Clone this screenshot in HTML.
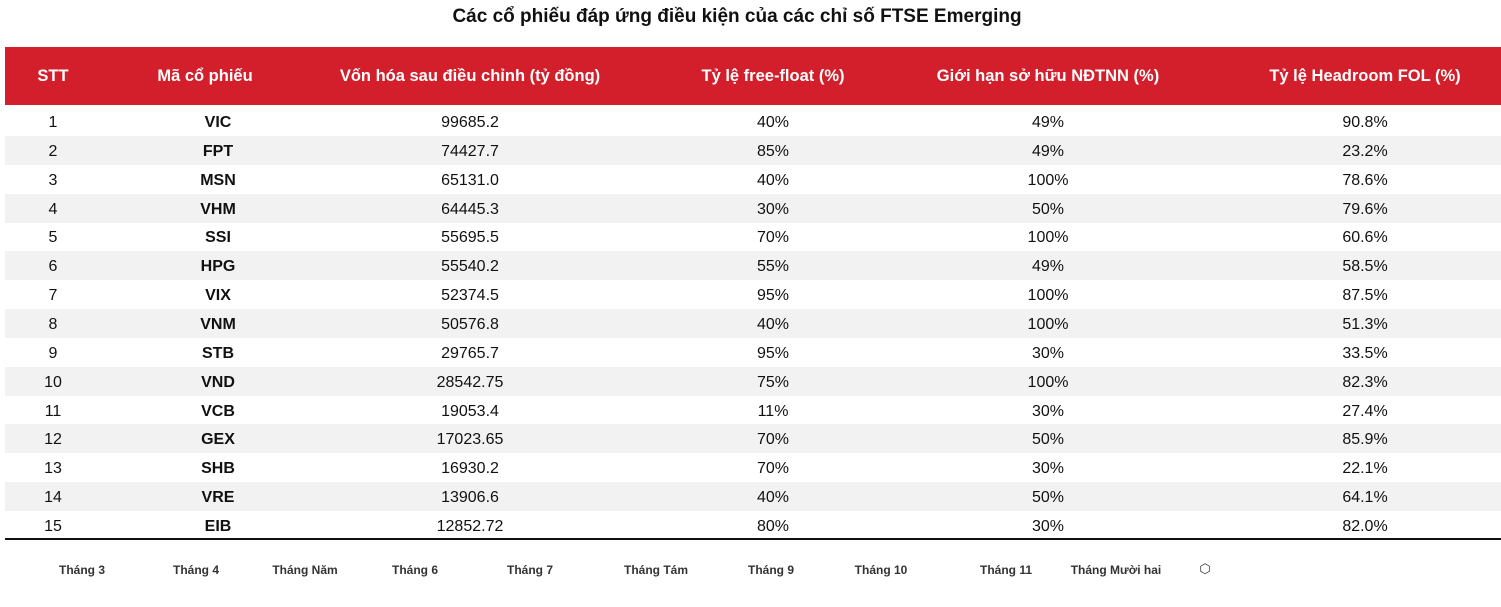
<!DOCTYPE html>
<html><head><meta charset="utf-8"><style>
body{margin:0;width:1501px;height:607px;background:#fff;font-family:"Liberation Sans Narrow","Liberation Sans",sans-serif;position:relative;overflow:hidden}
.t{position:absolute;white-space:nowrap;transform:translateX(-50%)}
#title{left:737px;top:6px;font-size:19px;font-weight:bold;color:#111}
#hdr{position:absolute;left:5px;top:47px;width:1496px;height:58px;background:#d21f2b}
.h{color:#fff;font-weight:bold;font-size:16.5px;top:67px}
.row{position:absolute;left:5px;width:1496px;height:29px}
.c{font-size:16px;color:#111}
.b{font-weight:bold}
#bl{position:absolute;left:5px;top:538px;width:1496px;height:2px;background:#111}
.m{font-size:12px;font-weight:bold;color:#333;top:563px}
</style></head><body>
<div id="title" class="t">Các cổ phiếu đáp ứng điều kiện của các chỉ số FTSE Emerging</div>
<div id="hdr"></div>
<div class="t h" style="left:53px">STT</div>
<div class="t h" style="left:205px">Mã cổ phiếu</div>
<div class="t h" style="left:470px">Vốn hóa sau điều chỉnh (tỷ đồng)</div>
<div class="t h" style="left:773px">Tỷ lệ free-float (%)</div>
<div class="t h" style="left:1048px">Giới hạn sở hữu NĐTNN (%)</div>
<div class="t h" style="left:1365px">Tỷ lệ Headroom FOL (%)</div>
<div id="rows"></div>
<div id="bl"></div>
<div id="months"></div>
<div class="t" style="left:1205px;top:561px;font-size:13px;color:#333">⬡</div>
<script>
const tickers=["VIC","FPT","MSN","VHM","SSI","HPG","VIX","VNM","STB","VND","VCB","GEX","SHB","VRE","EIB"];
const caps=["99685.2","74427.7","65131.0","64445.3","55695.5","55540.2","52374.5","50576.8","29765.7","28542.75","19053.4","17023.65","16930.2","13906.6","12852.72"];
const ff=["40%","85%","40%","30%","70%","55%","95%","40%","95%","75%","11%","70%","70%","40%","80%"];
const fol=["49%","49%","100%","50%","100%","49%","100%","100%","30%","100%","30%","50%","30%","50%","30%"];
const head=["90.8%","23.2%","78.6%","79.6%","60.6%","58.5%","87.5%","51.3%","33.5%","82.3%","27.4%","85.9%","22.1%","64.1%","82.0%"];
const months=["Tháng 3","Tháng 4","Tháng Năm","Tháng 6","Tháng 7","Tháng Tám","Tháng 9","Tháng 10","Tháng 11","Tháng Mười hai"];
const monthX=[82,196,305,415,530,656,771,881,1006,1116];
const R=document.getElementById('rows');
const cols=[53,218,470,773,1048,1365];
tickers.forEach((tk,i)=>{
  const top=107+i*28.86;
  if(i%2==1){const bg=document.createElement('div');bg.className='row';bg.style.top=top+'px';bg.style.background='#f2f2f2';
  
  
  R.appendChild(bg);}
  const vals=[String(i+1),tk,caps[i],ff[i],fol[i],head[i]];
  vals.forEach((v,j)=>{const d=document.createElement('div');d.className='t c'+(j==1?' b':'');d.style.left=cols[j]+'px';d.style.top=(top+7)+'px';d.textContent=v;
  
  
  R.appendChild(d);});
});
const M=document.getElementById('months');
months.forEach((m,i)=>{const d=document.createElement('div');d.className='t m';d.style.left=monthX[i]+'px';d.textContent=m;


M.appendChild(d);});
</script>
</body></html>
